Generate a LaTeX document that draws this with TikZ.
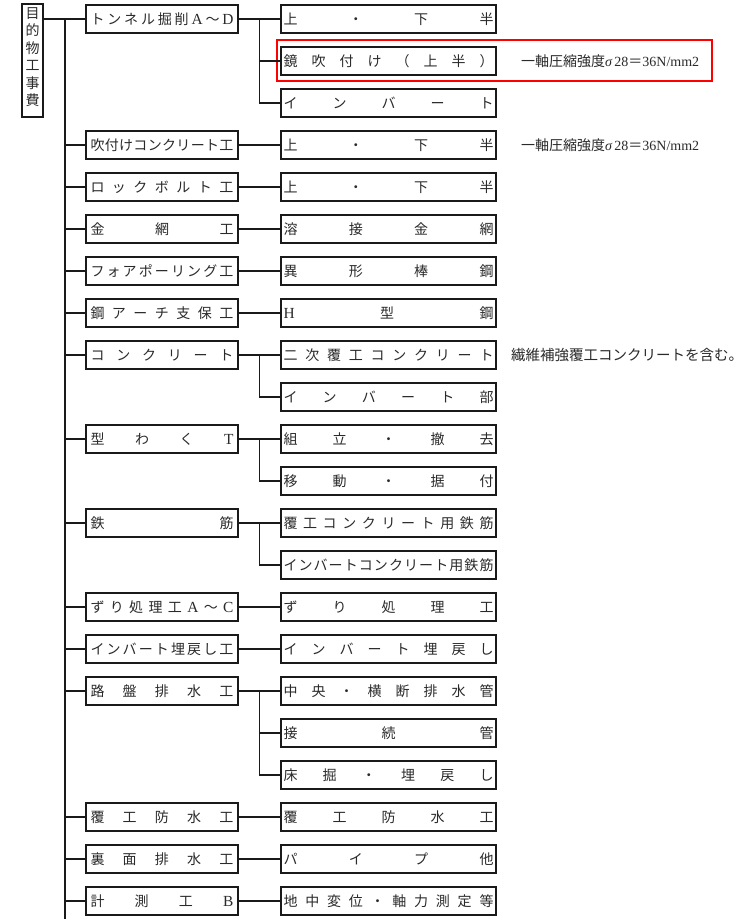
\documentclass[tikz,border=0pt]{standalone}
\usepackage{fontspec}
\setmainfont{Noto Sans CJK JP}
\newfontfamily\lat[Scale=1.1]{Liberation Serif}
\newfontfamily\latn{Liberation Serif}
\definecolor{ink}{HTML}{2A2A2A}
\definecolor{frame}{HTML}{1A1A1A}
\makeatletter
\def\jfill#1{\jf@first#1\@nil}
\def\jf@first#1{{#1}\jf@next}
\def\jf@next#1{\ifx\@nil#1\else\hfill{#1}\expandafter\jf@next\fi}
\makeatother
\newcommand\Lone[1]{\makebox[143pt][s]{\jfill{#1}}}
\newcommand\Ltwo[1]{\makebox[210pt][s]{\jfill{#1}}}
\tikzset{
  lone/.style={draw=frame, line width=1.5pt, minimum width=152pt, minimum height=28pt,
    inner sep=0pt, text=ink, font=\fontsize{14}{14}\selectfont},
  ltwo/.style={draw=frame, line width=1.5pt, minimum width=215pt, minimum height=28pt,
    inner sep=0pt, text=ink, font=\fontsize{14}{14}\selectfont},
  rootbox/.style={draw=frame, line width=1.5pt, minimum width=21pt, minimum height=113pt, inner sep=0pt},
  link/.style={draw=frame, line width=1.3pt},
  note/.style={anchor=west, inner sep=0pt, text=ink, font=\fontsize{14}{14}\selectfont},
  redbox/.style={draw=red, line width=1.5pt, minimum width=435pt, minimum height=41pt, inner sep=0pt},
}
\begin{document}
\begin{tikzpicture}[x=1pt,y=-1pt]
\useasboundingbox[fill=white] (0,0) rectangle (747,919);

% root
\node[rootbox] (root) at (32.5,60.5) {};
\node[anchor=north, inner sep=0pt, align=center, text=ink, font=\fontsize{14}{17.5}\selectfont]
  (roottext) at ([yshift=-4pt]root.north) {目\\的\\物\\工\\事\\費};

% level 1
\node[lone] (a0)  at (162,19)  {\Lone{トンネル掘削{\lat A}～{\lat D}}};
\node[lone] (a1)  at (162,145) {\Lone{吹付けコンクリート工}};
\node[lone] (a2)  at (162,187) {\Lone{ロックボルト工}};
\node[lone] (a3)  at (162,229) {\Lone{金網工}};
\node[lone] (a4)  at (162,271) {\Lone{フォアポーリング工}};
\node[lone] (a5)  at (162,313) {\Lone{鋼アーチ支保工}};
\node[lone] (a6)  at (162,355) {\Lone{コンクリート}};
\node[lone] (a7)  at (162,439) {\Lone{型わく{\lat T}}};
\node[lone] (a8)  at (162,523) {\Lone{鉄筋}};
\node[lone] (a9)  at (162,607) {\Lone{ずり処理工{\lat A}～{\lat C}}};
\node[lone] (a10) at (162,649) {\Lone{インバート埋戻し工}};
\node[lone] (a11) at (162,691) {\Lone{路盤排水工}};
\node[lone] (a12) at (162,817) {\Lone{覆工防水工}};
\node[lone] (a13) at (162,859) {\Lone{裏面排水工}};
\node[lone] (a14) at (162,901) {\Lone{計測工{\lat B}}};

% level 2
\node[ltwo] (b0)  at (388.5,19)  {\Ltwo{上・下半}};
\node[ltwo] (b1)  at (388.5,61)  {\Ltwo{鏡吹付け（上半）}};
\node[ltwo] (b2)  at (388.5,103) {\Ltwo{インバート}};
\node[ltwo] (b3)  at (388.5,145) {\Ltwo{上・下半}};
\node[ltwo] (b4)  at (388.5,187) {\Ltwo{上・下半}};
\node[ltwo] (b5)  at (388.5,229) {\Ltwo{溶接金網}};
\node[ltwo] (b6)  at (388.5,271) {\Ltwo{異形棒鋼}};
\node[ltwo] (b7)  at (388.5,313) {\Ltwo{{\lat H}型鋼}};
\node[ltwo] (b8)  at (388.5,355) {\Ltwo{二次覆工コンクリート}};
\node[ltwo] (b9)  at (388.5,397) {\Ltwo{インバート部}};
\node[ltwo] (b10) at (388.5,439) {\Ltwo{組立・撤去}};
\node[ltwo] (b11) at (388.5,481) {\Ltwo{移動・据付}};
\node[ltwo] (b12) at (388.5,523) {\Ltwo{覆工コンクリート用鉄筋}};
\node[ltwo] (b13) at (388.5,565) {\Ltwo{インバートコンクリート用鉄筋}};
\node[ltwo] (b14) at (388.5,607) {\Ltwo{ずり処理工}};
\node[ltwo] (b15) at (388.5,649) {\Ltwo{インバート埋戻し}};
\node[ltwo] (b16) at (388.5,691) {\Ltwo{中央・横断排水管}};
\node[ltwo] (b17) at (388.5,733) {\Ltwo{接続管}};
\node[ltwo] (b18) at (388.5,775) {\Ltwo{床掘・埋戻し}};
\node[ltwo] (b19) at (388.5,817) {\Ltwo{覆工防水工}};
\node[ltwo] (b20) at (388.5,859) {\Ltwo{パイプ他}};
\node[ltwo] (b21) at (388.5,901) {\Ltwo{地中変位・軸力測定等}};

% highlight and notes
\node[redbox] (hl) at (494.5,60.5) {};
\node[note] (n1) at (521,61)  {一軸圧縮強度{\latn\itshape σ}\,{\latn 28}＝{\latn 36N/mm2}};
\node[note] (n2) at (521,145) {一軸圧縮強度{\latn\itshape σ}\,{\latn 28}＝{\latn 36N/mm2}};
\node[note, font=\fontsize{14.5}{14.5}\selectfont] (n3) at (511,355) {繊維補強覆工コンクリートを含む。};

% trunk
\coordinate (ttop) at (65,19);
\coordinate (tbot) at (65,919);
\draw[link] (root.east |- a0.west) -- (a0.west);
\draw[link] (ttop) -- (tbot);
\foreach \n in {a1,a2,a3,a4,a5,a6,a7,a8,a9,a10,a11,a12,a13,a14}
  \draw[link] (ttop |- \n.west) -- (\n.west);

% level 1 -> level 2
\draw[link] (a0.east) -- (b0.west);
\draw[link] (a1.east) -- (b3.west);
\draw[link] (a2.east) -- (b4.west);
\draw[link] (a3.east) -- (b5.west);
\draw[link] (a4.east) -- (b6.west);
\draw[link] (a5.east) -- (b7.west);
\draw[link] (a6.east) -- (b8.west);
\draw[link] (a7.east) -- (b10.west);
\draw[link] (a8.east) -- (b12.west);
\draw[link] (a9.east) -- (b14.west);
\draw[link] (a10.east) -- (b15.west);
\draw[link] (a11.east) -- (b16.west);
\draw[link] (a12.east) -- (b19.west);
\draw[link] (a13.east) -- (b20.west);
\draw[link] (a14.east) -- (b21.west);

% group branches
\coordinate (g0) at ([xshift=-21pt]b0.west);
\draw[link] (g0) |- (b2.west);
\draw[link] (g0 |- b1.west) -- (b1.west);
\coordinate (g1) at ([xshift=-21pt]b8.west);
\draw[link] (g1) |- (b9.west);
\coordinate (g2) at ([xshift=-21pt]b10.west);
\draw[link] (g2) |- (b11.west);
\coordinate (g3) at ([xshift=-21pt]b12.west);
\draw[link] (g3) |- (b13.west);
\coordinate (g4) at ([xshift=-21pt]b16.west);
\draw[link] (g4) |- (b18.west);
\draw[link] (g4 |- b17.west) -- (b17.west);
\end{tikzpicture}
\end{document}
